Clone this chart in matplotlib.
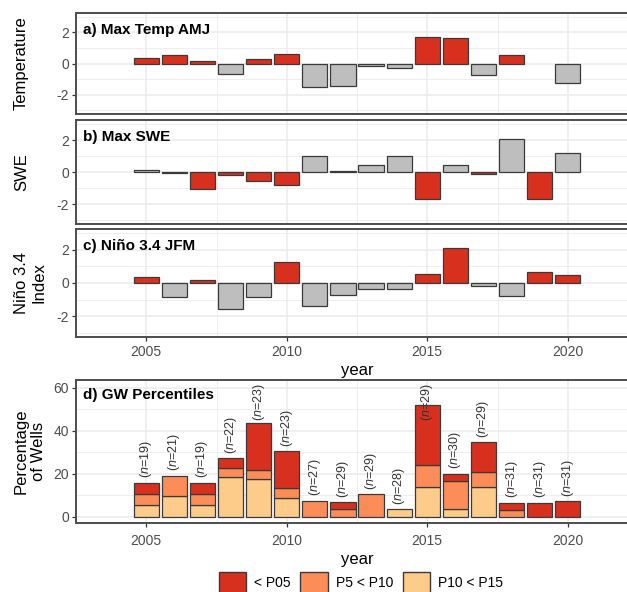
import numpy as np
import matplotlib
matplotlib.use('Agg')
import matplotlib.pyplot as plt
from matplotlib.patches import Patch
from matplotlib.ticker import MultipleLocator

plt.rcParams['font.family'] = ['Liberation Sans', 'DejaVu Sans']
plt.rcParams['axes.unicode_minus'] = False
plt.rcParams['mathtext.fontset'] = 'custom'
plt.rcParams['mathtext.rm'] = 'Liberation Sans'
plt.rcParams['mathtext.it'] = 'Liberation Sans:italic'

years = np.arange(2005, 2021)

# anomalies (2019 temp has no bar)
temp = [0.35, 0.53, 0.15, -0.66, 0.28, 0.60, -1.51, -1.47, -0.17, -0.28,
        1.72, 1.66, -0.74, 0.55, np.nan, -1.28]
swe = [0.15, -0.09, -1.08, -0.17, -0.56, -0.80, 0.97, 0.06, 0.43, 0.97,
       -1.66, 0.41, -0.13, 2.04, -1.66, 1.20]
nino = [0.38, -0.83, 0.18, -1.58, -0.85, 1.25, -1.36, -0.71, -0.35, -0.35,
        0.54, 2.08, -0.16, -0.79, 0.68, 0.50]

# percentage of wells per class
pct_p15 = [5.26, 9.52, 5.26, 18.18, 17.39, 8.70, 0, 0, 0, 3.57,
           13.79, 3.33, 13.79, 0, 0, 0]
pct_p10 = [5.26, 9.52, 5.26, 4.55, 4.35, 4.35, 7.41, 3.45, 10.34, 0,
           10.34, 13.33, 6.90, 3.23, 0, 0]
pct_p05 = [5.26, 0, 5.26, 4.55, 21.74, 17.39, 0, 3.45, 0, 0,
           27.59, 3.33, 13.79, 3.23, 6.45, 7.14]
n_wells = [19, 21, 19, 22, 23, 23, 27, 29, 29, 28, 29, 30, 29, 31, 31, 31]

RED = '#D7301F'
ORANGE = '#FC8D59'
LIGHT = '#FDCC8A'
GREY = '#BEBEBE'
EDGE = '#3a3a3a'
BORDER = '#4d4d4d'

W, H = 627, 592
fig = plt.figure(figsize=(W / 100, H / 100), dpi=100, facecolor='white')

x0, x1 = 76, 638


def make_ax(top, bottom):
    ax = fig.add_axes([x0 / W, 1 - bottom / H, (x1 - x0) / W, (bottom - top) / H])
    ax.set_facecolor('none')
    return ax


def style(ax):
    ax.set_xlim(2003.22, 2021.78)
    ax.xaxis.set_major_locator(MultipleLocator(5))
    ax.set_xticks([2002.5, 2007.5, 2012.5, 2017.5, 2022.5], minor=True)
    ax.grid(True, which='major', color='#EBEBEB', lw=1.1, zorder=0)
    ax.grid(True, which='minor', color='#EBEBEB', lw=0.6, zorder=0)
    ax.set_axisbelow(True)
    for s in ax.spines.values():
        s.set_color(BORDER)
        s.set_linewidth(1.4)
    ax.tick_params(which='major', length=3, width=0.9, color='#333333',
                   labelsize=10, labelcolor='#4d4d4d', pad=2)
    ax.tick_params(which='minor', length=0)


def anomaly_panel(ax, vals, red_if_pos, title, ylabel):
    vals = np.array(vals, dtype=float)
    ok = ~np.isnan(vals)
    red = vals > 0 if red_if_pos else vals < 0
    cols = [RED if r else GREY for r in red]
    ax.bar(years[ok], vals[ok], width=0.9, color=np.array(cols)[ok],
           edgecolor=EDGE, linewidth=0.9, zorder=3)
    style(ax)
    ax.set_ylim(-3.25, 3.25)
    ax.yaxis.set_major_locator(MultipleLocator(2))
    ax.yaxis.set_minor_locator(MultipleLocator(1))
    ax.annotate(title, xy=(0, 1), xycoords='axes fraction', xytext=(5, -7.5),
                textcoords='offset points', ha='left', va='top',
                fontsize=11, fontweight='bold')
    pos = ax.get_position()
    fig.text(14 / W, pos.y0 + pos.height / 2, ylabel, rotation=90,
             ha='left', va='center', fontsize=12, multialignment='center')


ax_a = make_ax(13, 114)
anomaly_panel(ax_a, temp, True, 'a) Max Temp AMJ', 'Temperature')
ax_a.tick_params(axis='x', length=0, labelbottom=False)

ax_b = make_ax(120, 224)
anomaly_panel(ax_b, swe, False, 'b) Max SWE', 'SWE')
ax_b.tick_params(axis='x', length=0, labelbottom=False)

ax_c = make_ax(229, 337)
anomaly_panel(ax_c, nino, True, 'c) Niño 3.4 JFM', 'Niño 3.4\nIndex')
ax_c.tick_params(axis='x', pad=3)
ax_c.set_xlabel('year', fontsize=12, labelpad=3)

# panel d - stacked percentages
ax_d = make_ax(380, 523)
style(ax_d)
p15 = np.array(pct_p15)
p10 = np.array(pct_p10)
p05 = np.array(pct_p05)
m = p15 > 0
ax_d.bar(years[m], p15[m], width=0.9, color=LIGHT, edgecolor=EDGE, lw=0.9, zorder=3)
m = p10 > 0
ax_d.bar(years[m], p10[m], bottom=p15[m], width=0.9, color=ORANGE, edgecolor=EDGE, lw=0.9, zorder=3)
m = p05 > 0
ax_d.bar(years[m], p05[m], bottom=(p15 + p10)[m], width=0.9, color=RED, edgecolor=EDGE, lw=0.9, zorder=3)
total = p15 + p10 + p05
for yr, t, n in zip(years, total, n_wells):
    ax_d.text(yr, min(t + 19.5, 61.8), r'($\it{n}$=%d)' % n, rotation=90,
              ha='center', va='top', fontsize=9, color='#333333', zorder=4)
ax_d.set_ylim(-3, 63.5)
ax_d.yaxis.set_major_locator(MultipleLocator(20))
ax_d.yaxis.set_minor_locator(MultipleLocator(10))
ax_d.tick_params(axis='x', pad=5)
ax_d.annotate('d) GW Percentiles', xy=(0, 1), xycoords='axes fraction', xytext=(5, -6),
              textcoords='offset points', ha='left', va='top',
              fontsize=11, fontweight='bold')
ax_d.set_xlabel('year', fontsize=12, labelpad=3)
pos = ax_d.get_position()
fig.text(14 / W, pos.y0 + pos.height / 2, 'Percentage\nof Wells', rotation=90,
         ha='left', va='center', fontsize=12, multialignment='center')

handles = [Patch(facecolor=RED, edgecolor=EDGE, label='< P05'),
           Patch(facecolor=ORANGE, edgecolor=EDGE, label='P5 < P10'),
           Patch(facecolor=LIGHT, edgecolor=EDGE, label='P10 < P15')]
fig.legend(handles=handles, loc='center', bbox_to_anchor=(361 / W, 1 - 583 / H),
           ncol=3, frameon=False, fontsize=10, handlelength=1.95, handleheight=1.95,
           handletextpad=0.6, columnspacing=0.7, borderaxespad=0, borderpad=0)

fig.savefig('out.png', dpi=100)
